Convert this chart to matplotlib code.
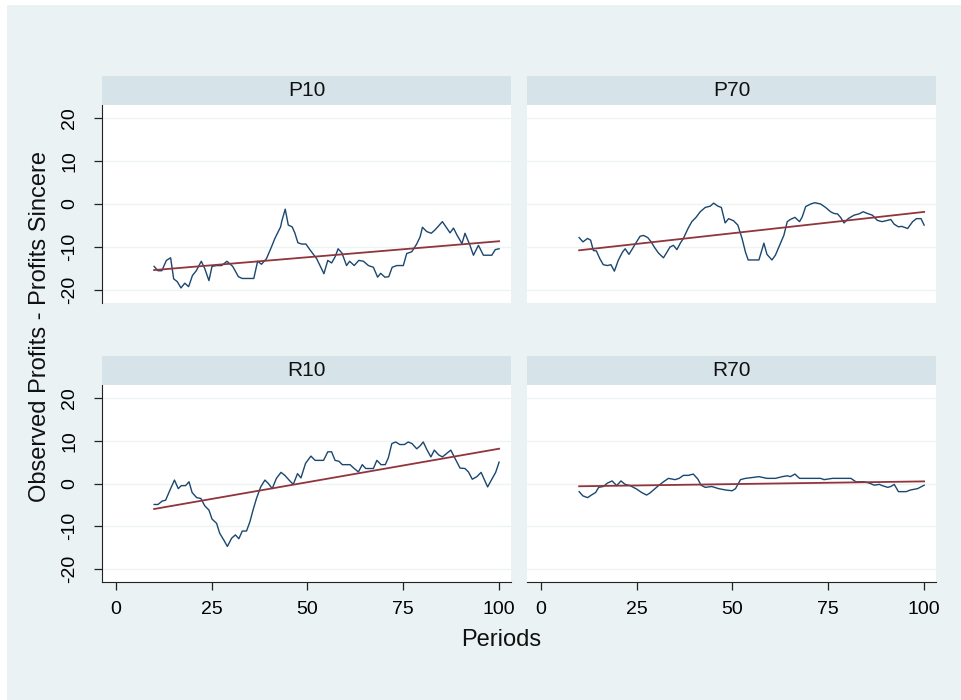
import matplotlib
matplotlib.use("Agg")
import matplotlib.pyplot as plt
import numpy as np

plt.rcParams['font.family'] = ['Liberation Sans', 'DejaVu Sans']
plt.rcParams['axes.unicode_minus'] = False

# observed profits minus sincere profits
p10_x = [10, 11, 12, 13.2, 14.3, 15.1, 16, 17, 18, 19, 20, 21, 22.3, 23.2, 24.3, 25.1, 26.3, 27.6, 29, 30.5,
         32, 33, 36, 37, 38, 39.3, 40.6, 41.5, 43, 43.3, 44.2, 45, 46, 46.7, 47.5, 48.5, 49.6, 50.7, 52.4, 54.3,
         55.3, 56.3, 57.2, 58, 59, 60.2, 61, 62.2, 63.4, 64.6, 65.9, 67.2, 68.3, 69.1, 70.2, 71.2, 72.1, 73.3, 75, 75.9,
         77.2, 78.5, 79.4, 80, 81.1, 82.3, 83.3, 85.2, 87.2, 88.1, 89, 90.3, 91.1, 92.4, 93.3, 94.6, 95.9, 98.1, 99, 100]
p10_y = [-14.5, -15.5, -15.5, -13.1, -12.5, -17.4, -18, -19.5, -18.4, -19.2, -16.6, -15.5, -13.3, -15, -17.8, -14.5, -14.3, -14.3, -13.3, -14.5,
         -16.9, -17.3, -17.3, -13.3, -14, -12.7, -10, -8, -5.3, -4, -1.2, -4.9, -5.3, -6.7, -9, -9.3, -9.3, -10.7, -12.7, -16.2,
         -13.1, -13.7, -12.3, -10.4, -11.4, -14.3, -13.3, -14.3, -13.1, -13.3, -14.3, -14.7, -17, -16.1, -17, -16.9, -14.7, -14.3, -14.3, -11.5,
         -11.1, -9.3, -7.6, -5.4, -6.4, -6.8, -6, -4.1, -6.7, -5.6, -7.2, -9.2, -6.8, -9.6, -11.9, -9.6, -11.9, -11.9, -10.6, -10.4]

p70_x = [10, 11, 12.2, 13, 13.7, 14.5, 15.4, 16.3, 17.4, 18.3, 19.2, 20.2, 21.3, 22, 23, 23.9, 24.7, 25.9, 26.8, 27.9,
         28.8, 29.6, 30.7, 32, 32.9, 33.7, 34.6, 35.5, 36.4, 37.2, 38.4, 39.4, 40.5, 41.6, 42.9, 44.2, 45.1, 46.2, 47.1, 48.1,
         49, 50.3, 51.4, 52.5, 53.4, 54.1, 56.9, 58.2, 59, 60.3, 61.2, 62.3, 63.4, 64.3, 65.1, 66.3, 67.5, 68.2, 69.1, 70.4,
         71.5, 73, 74.3, 75.6, 76.5, 77.4, 78.2, 79.1, 80.2, 81.7, 83, 84.1, 85.2, 86.5, 87.8, 89, 90, 91.3, 92.2, 93.3,
         94.2, 95.7, 97, 98, 99.2, 100]
p70_y = [-7.8, -8.8, -8, -8.4, -10.8, -10.9, -12.7, -14.1, -14.3, -14.1, -15.6, -13.1, -11.2, -10.4, -11.7, -10.4, -9.2, -7.5, -7.3, -7.8,
         -8.8, -10, -11.4, -12.5, -11.2, -10, -9.6, -10.6, -9.1, -8, -5.7, -4.1, -3.1, -1.8, -0.8, -0.5, 0.2, -0.5, -0.8, -4.4,
         -3.4, -3.9, -4.9, -8, -11.2, -13, -13, -9.1, -11.7, -13, -11.9, -9.6, -7.3, -4.1, -3.6, -3.1, -4.1, -3, -0.6, 0,
         0.3, 0, -0.8, -1.8, -2.2, -2.3, -3.1, -4.4, -3.4, -2.6, -2.3, -1.8, -2.2, -2.6, -3.8, -4.1, -3.9, -3.6, -4.7, -5.3,
         -5.2, -5.7, -4.1, -3.4, -3.4, -4.9]

r10_x = [10, 11, 12.1, 13, 14.1, 15.3, 16.3, 17.1, 18.2, 19.1, 19.9, 21.1, 22.2, 23.2, 24.3, 25.1, 26.3, 27.1, 28.3, 29.1,
         30.2, 31.2, 32.1, 33, 34.1, 35, 35.8, 36.7, 37.8, 38.9, 39.8, 40.8, 41.9, 43.1, 44.1, 45.2, 46.3, 47.4, 48.3, 49.5,
         50.9, 52, 54.2, 55.3, 56.3, 57.2, 58.2, 59.1, 61.1, 62.2, 63.3, 64.3, 65.2, 67.2, 68.1, 69.2, 70.3, 71.1, 72, 73,
         74.1, 75.3, 76.3, 77.3, 78.5, 79.4, 80.2, 81.1, 82.2, 83.1, 84.2, 85.2, 86.3, 87.4, 88.3, 89.8, 91.1, 92, 93, 94.2,
         95.3, 96.2, 97, 98.1, 99.1, 100]
r10_y = [-4.9, -4.9, -4.1, -3.9, -1.6, 0.8, -1.2, -0.5, -0.5, 0.4, -2.1, -3.3, -3.5, -5.2, -6.2, -8.3, -9.3, -11.6, -13.4, -14.7,
         -12.8, -12, -12.9, -11.1, -11.1, -8.9, -6.2, -3.5, -0.8, 0.8, 0, -1.2, 1.2, 2.6, 1.9, 0.8, -0.2, 2.3, 1.3, 4.7,
         6.4, 5.4, 5.4, 7.4, 7.4, 5.4, 5.2, 4.4, 4.4, 3.5, 2.7, 4.4, 3.5, 3.5, 5.4, 4.4, 4.4, 6, 9.3, 9.7,
         9.1, 9.1, 9.7, 9.3, 8.1, 8.8, 9.7, 8, 6.2, 7.8, 6.7, 6.2, 7, 7.8, 6.2, 3.6, 3.5, 2.7, 1, 1.6,
         2.6, 0.8, -0.8, 1, 2.6, 5]

r70_x = [10, 11, 12.2, 13.2, 14.3, 15.1, 16.3, 17.4, 18.6, 19.8, 20.9, 22, 23.3, 25, 26.3, 27.6, 28.5, 29.8, 30.7, 32,
         33.3, 35, 36.1, 37.2, 38.5, 39.8, 41, 41.8, 42.9, 44.6, 46.4, 48.1, 49.9, 50.8, 52.1, 53.4, 55.2, 56.9, 59, 61.2,
         63, 64.3, 65.1, 66.3, 67.5, 70.8, 73, 73.9, 76.1, 78.7, 80.9, 82.2, 84.3, 85.7, 87, 88.3, 89.1, 90.5, 91.3, 92.2,
         93.3, 95.3, 96.5, 98.3, 100]
r70_y = [-1.9, -2.9, -3.3, -2.7, -2.1, -0.9, -0.7, 0.1, 0.6, -0.5, 0.6, -0.2, -0.5, -1.3, -2.1, -2.7, -2.2, -1.2, -0.5, 0.4,
         1.2, 0.9, 1.2, 1.9, 1.9, 2.2, 1, -0.4, -0.9, -0.7, -1.2, -1.5, -1.7, -1.2, 0.9, 1.2, 1.4, 1.6, 1.2, 1.2,
         1.6, 1.8, 1.6, 2.2, 1.2, 1.2, 1.2, 0.9, 1.2, 1.2, 1.2, 0.4, 0.4, 0.1, -0.4, -0.2, -0.5, -0.9, -0.7, -0.2,
         -1.9, -1.9, -1.5, -1.2, -0.4]

titles = ["P10", "P70", "R10", "R70"]
xs = [p10_x, p70_x, r10_x, r70_x]
ys = [p10_y, p70_y, r10_y, r70_y]

bg = "#eaf2f3"
strip = "#d6e4ea"
navy = "#1a476f"
maroon = "#90353b"

W, H = 961, 700
fig = plt.figure(figsize=(W / 100, H / 100), dpi=100, facecolor="white")
# light graph region, leaving a thin white edge top and left
fig.patches.append(plt.Rectangle((7 / W, 0), 1 - 7 / W, 1 - 5 / H, transform=fig.transFigure,
                                 facecolor=bg, edgecolor="none", zorder=-10))

lefts = [102, 527]
plot_tops = [105, 385]
plot_bots = [303, 582]
pw = 409

for i in range(4):
    r, c = divmod(i, 2)
    l = lefts[c] / W
    b = 1 - plot_bots[r] / H
    h = (plot_bots[r] - plot_tops[r]) / H
    ax = fig.add_axes([l, b, pw / W, h])
    ax.set_facecolor("white")
    x = np.array(xs[i])
    y = np.array(ys[i])
    ax.plot(x, y, color=navy, lw=1.0, zorder=3)
    k, m = np.polyfit(x, y, 1)
    ax.plot([x[0], x[-1]], [k * x[0] + m, k * x[-1] + m], color=maroon, lw=1.3, zorder=4)
    ax.set_xlim(-3.6, 103.1)
    ax.set_ylim(-23, 23)
    ax.set_yticks([-20, -10, 0, 10, 20])
    ax.set_xticks([0, 25, 50, 75, 100])
    ax.grid(axis="y", color="#eef3f3", lw=1.0, zorder=1)
    for s in ax.spines.values():
        s.set_visible(False)
    if c == 0:
        ax.spines["left"].set_visible(True)
        ax.spines["left"].set_color("#222222")
        ax.tick_params(axis="y", length=6, width=0.9, pad=11, labelsize=14, color="#222222",
                       labelrotation=90)
        for t in ax.get_yticklabels():
            t.set_va("center")
    else:
        ax.tick_params(axis="y", left=False, labelleft=False)
    if r == 1:
        ax.spines["bottom"].set_visible(True)
        ax.spines["bottom"].set_color("#222222")
        ax.tick_params(axis="x", length=6, width=0.9, pad=8, labelsize=14, color="#222222")
    else:
        ax.tick_params(axis="x", bottom=False, labelbottom=False)

    # header strip
    sax = fig.add_axes([l, 1 - plot_tops[r] / H, pw / W, 29 / H])
    sax.set_facecolor(strip)
    sax.set_xticks([])
    sax.set_yticks([])
    for s in sax.spines.values():
        s.set_visible(False)
    sax.text(0.5, 0.5, titles[i], ha="center", va="center", fontsize=15, color="#111111",
             transform=sax.transAxes)

fig.text(40 / W, 1 - 327 / H, "Observed Profits - Profits Sincere", rotation=90,
         ha="center", va="center", fontsize=17, color="#111111")
fig.text(501 / W, 1 - 640 / H, "Periods", ha="center", va="center", fontsize=17, color="#111111")

fig.savefig("out.png", dpi=100, facecolor=fig.get_facecolor())
